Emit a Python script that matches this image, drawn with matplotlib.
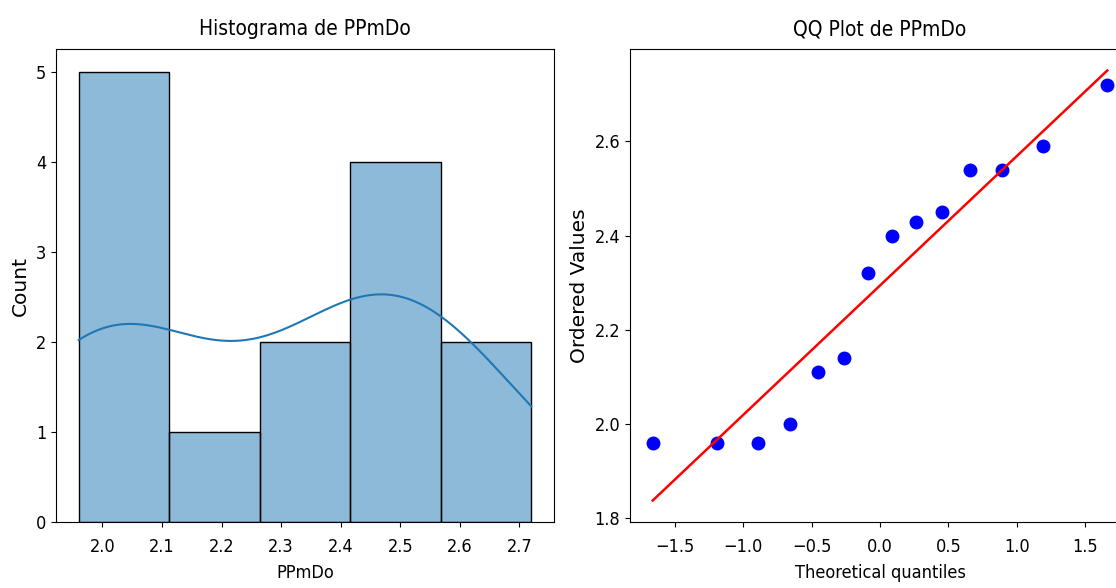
import numpy as np
import matplotlib
matplotlib.use('Agg')
import matplotlib.pyplot as plt
import seaborn as sns
from statistics import NormalDist

plt.rcParams['font.stretch'] = 'condensed'
plt.rcParams['xtick.labelsize'] = 13
plt.rcParams['ytick.labelsize'] = 13
plt.rcParams['xtick.major.pad'] = 8

# PPmDo values
ppmdo = [1.96, 1.96, 1.96, 2.00, 2.11, 2.14, 2.32, 2.40, 2.43, 2.45, 2.54, 2.54, 2.59, 2.72]

fig = plt.figure(figsize=(11.16, 5.88), dpi=100)
ax1 = fig.add_axes([56/1116, 66/588, 498/1116, 473/588])
ax2 = fig.add_axes([630/1116, 66/588, 500/1116, 473/588])

# histogram + kde
sns.histplot(ppmdo, bins=5, kde=True, ax=ax1)
ax1.set_title('Histograma de PPmDo', fontsize=15, pad=10)
ax1.set_xlabel('PPmDo', fontsize=13, labelpad=6)
ax1.set_ylabel('Count', fontsize=14.5, fontstretch='normal')

# qq plot (same recipe as scipy.stats.probplot)
y = np.sort(np.array(ppmdo))
n = len(y)
m = (np.arange(1, n + 1) - 0.3175) / (n + 0.365)
m[0] = 1 - 0.5 ** (1.0 / n)
m[-1] = 0.5 ** (1.0 / n)
osm = np.array([NormalDist().inv_cdf(p) for p in m])
slope, icpt = np.polyfit(osm, y, 1)

ax2.plot(osm, y, 'bo', markersize=9)
ax2.plot(osm, slope * osm + icpt, 'r-', linewidth=1.8)
ax2.set_title('QQ Plot de PPmDo', fontsize=15, pad=10)
ax2.set_xlabel('Theoretical quantiles', fontsize=13, labelpad=6)
ax2.set_ylabel('Ordered Values', fontsize=14.5, fontstretch='normal')

plt.savefig('out.png', dpi=100)
